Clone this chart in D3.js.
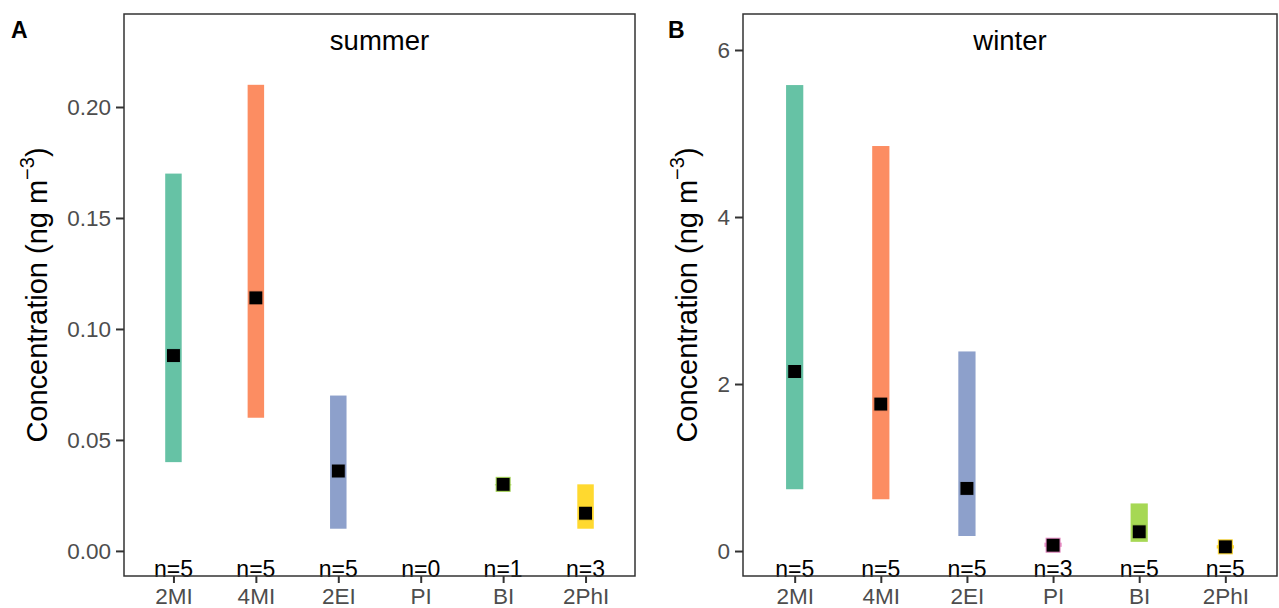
<!DOCTYPE html>
<html>
<head>
<meta charset="utf-8">
<script src="https://cdn.jsdelivr.net/npm/d3@7"></script>
<style>
  body { margin: 0; background: #fff; }
  svg { display: block; font-family: "Liberation Sans", Arial, sans-serif; }
</style>
</head>
<body>
<svg width="1279" height="608"></svg>
<script>
// compounds and Set2 colours
var compounds = ["2MI", "4MI", "2EI", "PI", "BI", "2PhI"];
var colors = ["#66c2a5", "#fc8d62", "#8da0cb", "#e78ac3", "#a6d854", "#ffd92f"];

// summer (ng m-3)
var summerLow  = [0.040, 0.060, 0.010, null, 0.030, 0.010];
var summerHigh = [0.170, 0.210, 0.070, null, 0.030, 0.030];
var summerMid  = [0.088, 0.114, 0.036, null, 0.030, 0.017];
var summerN    = [5, 5, 5, 0, 1, 3];
var summerTicks = [0, 0.05, 0.10, 0.15, 0.20];

// winter (ng m-3)
var winterLow  = [0.74, 0.62, 0.18, 0.05, 0.11, 0.03];
var winterHigh = [5.58, 4.85, 2.39, 0.10, 0.57, 0.07];
var winterMid  = [2.15, 1.76, 0.75, 0.07, 0.23, 0.05];
var winterN    = [5, 5, 5, 3, 5, 5];
var winterTicks = [0, 2, 4, 6];

var svg = d3.select("svg");

function panel(opt) {
    var x = d3.scalePoint().domain(compounds).range([opt.left, opt.right]).padding(0.6);
    var y = d3.scaleLinear().domain(opt.domain).range([576, 14]);
    var bw = x.step() * 0.2;

    var rows = compounds.map(function(c, i) {
        return {name: c, col: colors[i], lo: opt.low[i], hi: opt.high[i], mid: opt.mid[i], n: opt.n[i]};
    });
    var has = rows.filter(function(d) { return d.mid != null; });

    var g = svg.append("g");

    g.selectAll("rect.bar")
    .data(has)
    .enter()
    .append("rect")
    .attr("class", "bar")
    .attr("x", function(d) { return x(d.name) - bw / 2; })
    .attr("width", bw)
    .attr("y", function(d) { return y(d.hi); })
    .attr("height", function(d) { return Math.max(y(d.lo) - y(d.hi), 1); })
    .style("fill", function(d) { return d.col; });

    g.selectAll("rect.pt")
    .data(has)
    .enter()
    .append("rect")
    .attr("class", "pt")
    .attr("x", function(d) { return x(d.name) - 7; })
    .attr("y", function(d) { return y(d.mid) - 7; })
    .attr("width", 14)
    .attr("height", 14)
    .style("fill", "#000")
    .style("stroke", function(d) { return d.col; })
    .style("stroke-width", 1);

    g.selectAll("text.n")
    .data(rows)
    .enter()
    .append("text")
    .attr("class", "n")
    .attr("x", function(d) { return x(d.name); })
    .attr("y", 577)
    .attr("text-anchor", "middle")
    .style("font-size", "23px")
    .style("fill", "#000")
    .text(function(d) { return "n=" + d.n; });

    var ax = g.append("g")
    .attr("transform", "translate(" + opt.left + ",0)")
    .call(d3.axisLeft(y).tickValues(opt.ticks).tickFormat(opt.fmt).tickSize(8).tickPadding(5));
    ax.select(".domain").remove();

    var bx = g.append("g")
    .attr("transform", "translate(0,576)")
    .call(d3.axisBottom(x).tickSize(7).tickPadding(5));
    bx.select(".domain").remove();

    [ax, bx].forEach(function(a) {
        a.selectAll("line").style("stroke", "#333").style("stroke-width", 2);
        a.selectAll("text").style("fill", "#4d4d4d").style("font-size", "22.5px")
         .style("font-family", "'Liberation Sans', Arial, sans-serif");
    });

    g.append("rect")
    .attr("x", opt.left).attr("y", 14)
    .attr("width", opt.right - opt.left).attr("height", 562)
    .style("fill", "none").style("stroke", "#333").style("stroke-width", 1.5);

    g.append("text")
    .attr("x", (opt.left + opt.right) / 2)
    .attr("y", 50)
    .attr("text-anchor", "middle")
    .style("font-size", "27.5px")
    .text(opt.title);

    g.append("text")
    .attr("x", opt.tagX)
    .attr("y", 38)
    .style("font-size", "23px")
    .style("font-weight", "bold")
    .text(opt.tag);

    var yt = g.append("text")
    .attr("transform", "translate(" + opt.titleX + ",295) rotate(-90)")
    .attr("text-anchor", "middle")
    .style("font-size", "29px");
    yt.append("tspan").text("Concentration (ng m");
    yt.append("tspan").attr("dy", -13).style("font-size", "20px").text("\u22123");
    yt.append("tspan").attr("dy", 13).text(")");
}

panel({left: 124, right: 635, domain: [-0.0113, 0.2419], ticks: summerTicks, fmt: d3.format(".2f"),
       low: summerLow, high: summerHigh, mid: summerMid, n: summerN,
       title: "summer", tag: "A", tagX: 11, titleX: 47});

panel({left: 743, right: 1277, domain: [-0.299, 6.431], ticks: winterTicks, fmt: d3.format("d"),
       low: winterLow, high: winterHigh, mid: winterMid, n: winterN,
       title: "winter", tag: "B", tagX: 668, titleX: 697});
</script>
</body>
</html>
